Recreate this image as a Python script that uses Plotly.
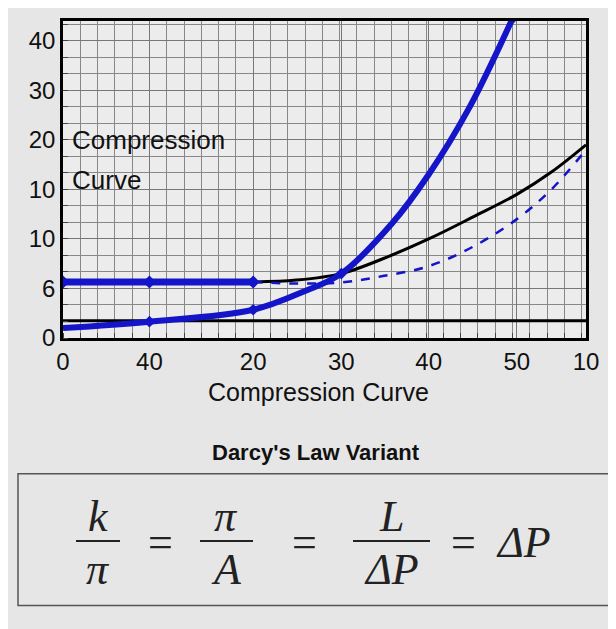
import plotly.graph_objects as go

# tick positions (axis units) and their labels
x_tickvals = [0, 1, 2.2, 3.22, 4.23, 5.25, 6.05]
x_ticktext = ["0", "40", "20", "30", "40", "50", "10"]
y_tickvals = [0, 1, 2, 3, 4, 5, 6]
y_ticktext = ["0", "6", "10", "10", "20", "30", "40"]

flat_x = [0, 1, 2.2]
flat_y = [1.13, 1.13, 1.13]
black_x = [2.2, 2.7, 3.22, 3.7, 4.23, 4.75, 5.25, 5.65, 6.05]
black_y = [1.13, 1.17, 1.3, 1.6, 2.0, 2.45, 2.9, 3.35, 3.9]
dash_x = [2.2, 2.7, 3.22, 3.7, 4.23, 4.75, 5.25, 5.65, 6.05]
dash_y = [1.13, 1.1, 1.12, 1.25, 1.45, 1.85, 2.4, 3.0, 3.8]
rise_x = [0, 1, 2.2, 2.8, 3.22, 3.8, 4.23, 4.7, 5.2]
rise_y = [0.2, 0.33, 0.57, 0.95, 1.3, 2.3, 3.3, 4.65, 6.45]
base_x = [0, 6.05]
base_y = [0.35, 0.35]

BLUE = "#1414c8"
fig = go.Figure()
fig.add_trace(go.Scatter(x=base_x, y=base_y, mode="lines", line=dict(color="black", width=3)))
fig.add_trace(go.Scatter(x=black_x, y=black_y, mode="lines", line=dict(color="black", width=3, shape="spline")))
fig.add_trace(go.Scatter(x=dash_x, y=dash_y, mode="lines", line=dict(color=BLUE, width=2.5, dash="dash", shape="spline")))
fig.add_trace(go.Scatter(x=flat_x, y=flat_y, mode="lines+markers", line=dict(color=BLUE, width=7),
                         marker=dict(size=10, symbol="diamond", color=BLUE)))
fig.add_trace(go.Scatter(x=rise_x, y=rise_y, mode="lines", line=dict(color=BLUE, width=6, shape="spline")))
fig.add_trace(go.Scatter(x=[rise_x[i] for i in (1, 2, 4, 8)], y=[rise_y[i] for i in (1, 2, 4, 8)],
                         mode="markers", marker=dict(size=9, symbol="diamond", color=BLUE)))

L, R, T, B = 55, 578, 10, 330
W, H = 616, 629
def px(x): return (x - L) / (R - L)
def py(y): return (B - y) / (B - T)

anns = [
    dict(x=px(308), y=py(446), text="<b>Darcy's Law Variant</b>", font=dict(size=22)),
    dict(x=px(310), y=py(385), text="Compression Curve", font=dict(size=25)),
    dict(x=px(62), y=py(130), text="Compression", font=dict(size=26), xanchor="left"),
    dict(x=px(62), y=py(170), text="Curve", font=dict(size=26), xanchor="left"),
]
ef = dict(family="Liberation Serif, DejaVu Serif, serif", size=44, color="#222")
for cx, top, bot in [(90, "k", "π"), (218, "π", "A"), (383, "L", "ΔP")]:
    anns.append(dict(x=px(cx), y=py(510), text=f"<i>{top}</i>", font=ef))
    anns.append(dict(x=px(cx), y=py(564), text=f"<i>{bot}</i>", font=ef))
for cx in (152, 296, 455):
    anns.append(dict(x=px(cx), y=py(536), text="=", font=ef))
anns.append(dict(x=px(515), y=py(536), text="<i>ΔP</i>", font=ef))
for a in anns:
    a.update(xref="paper", yref="paper", showarrow=False, yanchor="middle")
    a.setdefault("xanchor", "center")
    a["font"].setdefault("family", "Liberation Sans, Arial, sans-serif")
    a["font"].setdefault("color", "#111")

shapes = [dict(type="rect", xref="paper", yref="paper", x0=px(10), x1=px(606), y0=py(600), y1=py(467),
               line=dict(color="#555", width=1.5))]
for x0, x1 in [(68, 112), (192, 245), (345, 422)]:
    shapes.append(dict(type="line", xref="paper", yref="paper", x0=px(x0), x1=px(x1), y0=py(535), y1=py(535),
                       line=dict(color="#222", width=2)))

axis_common = dict(showline=True, linecolor="black", linewidth=2.5, mirror=True, tickmode="array",
                   showgrid=True, gridcolor="#777", gridwidth=1, zeroline=False,
                   tickfont=dict(size=24, family="Liberation Sans, Arial, sans-serif", color="#111"),
                   ticks="", fixedrange=True)
fig.update_layout(
    width=W, height=H, showlegend=False,
    margin=dict(l=L, r=W - R, t=T, b=H - B),
    paper_bgcolor="#e6e6e6", plot_bgcolor="#ececec",
    xaxis=dict(axis_common, range=[0, 6.05], tickvals=x_tickvals, ticktext=x_ticktext,
               minor=dict(dtick=0.2, tick0=0, showgrid=True, gridcolor="#888", gridwidth=1, ticks="inside", ticklen=5)),
    yaxis=dict(axis_common, range=[0, 6.4], tickvals=y_tickvals, ticktext=y_ticktext,
               minor=dict(dtick=1/3, tick0=0, showgrid=True, gridcolor="#888", gridwidth=1, ticks="inside", ticklen=5)),
    annotations=anns, shapes=shapes,
)
fig.write_html("out.html")
